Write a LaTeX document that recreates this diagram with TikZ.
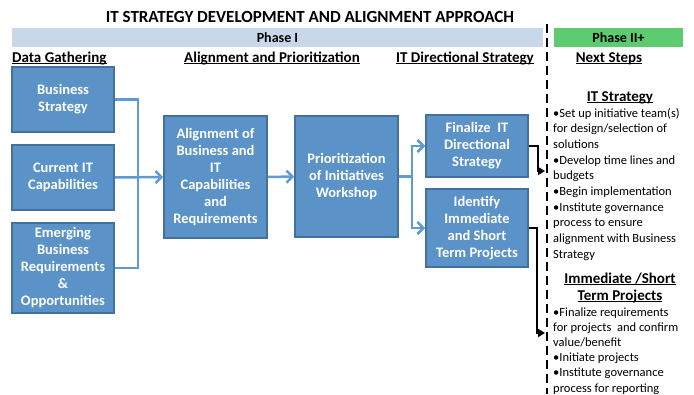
\documentclass[tikz,border=0pt]{standalone}
\usepackage{fontspec}
\setmainfont{Carlito}
\usetikzlibrary{arrows.meta}
\definecolor{boxfill}{HTML}{5B93C8}
\definecolor{boxline}{HTML}{41719C}
\definecolor{conncol}{HTML}{5F9AD3}
\definecolor{phaseone}{HTML}{C8D8EA}
\definecolor{phasetwo}{HTML}{5DCB6F}
\newcommand\hul[1]{\leavevmode\setbox0=\hbox{#1}\rlap{\rule[-2.3pt]{\wd0}{1.3pt}}\box0}
\begin{document}
\begin{tikzpicture}[x=1pt,y=-1pt,
 box/.style={draw=boxline, line width=1.5pt, fill=boxfill, text=white, font=\fontsize{14.5}{17}\selectfont\bfseries, align=center, inner sep=0pt, minimum width=102pt},
 conn/.style={draw=conncol, line width=2.5pt},
 carrow/.style={conn, -{Straight Barb[length=6pt,width=12pt]}},
 blk/.style={draw=black, line width=2pt, -{Triangle[length=7pt,width=8pt]}},
 hdr/.style={font=\fontsize{15}{18}\selectfont\bfseries, inner sep=0pt, anchor=base},
 phase/.style={font=\fontsize{14}{16}\selectfont\bfseries, inner sep=0pt, minimum height=19pt},
 body/.style={font=\fontsize{12.5}{15.7}\selectfont, inner sep=0pt, anchor=base west}]
\useasboundingbox (0,0) rectangle (694,394);

% title
\node[font=\fontsize{17}{20}\selectfont\bfseries, inner sep=0pt, anchor=base] (title) at (310,22) {IT STRATEGY DEVELOPMENT AND ALIGNMENT APPROACH};

% phase bars
\node[phase, fill=phaseone, minimum width=531pt] (p1) at (277.5,37.5) {Phase I};
\node[phase, fill=phasetwo, minimum width=129pt] (p2) at (618.5,37.5) {Phase II+};

% column headers
\node[hdr, anchor=base west] (h1) at (12,62) {\hul{Data Gathering}};
\node[hdr] (h2) at (272,62) {\hul{Alignment and Prioritization}};
\node[hdr] (h3) at (465,62) {\hul{IT Directional Strategy}};
\node[hdr] (h4) at (609,62) {\hul{Next Steps}};

% dashed separator
\draw[line width=2.5pt, dash pattern=on 9pt off 5pt] (547,24) -- (547,394);

% boxes
\node[box, minimum height=65pt] (bs) at (63,99.5) {Business\\Strategy};
\node[box, minimum height=65pt] (cit) at (63,177.5) {Current IT\\Capabilities};
\node[box, minimum height=90pt] (ebr) at (63,268) {Emerging\\Business\\Requirements\\\&\\Opportunities};
\node[box, minimum width=103pt, minimum height=122pt] (al) at (215.5,177) {Alignment of\\Business and\\IT\\Capabilities\\and\\Requirements};
\node[box, minimum width=103pt, minimum height=121pt] (pr) at (346.5,176.5) {Prioritization\\of Initiatives\\Workshop};
\node[box, minimum height=62pt] (fin) at (477,146) {Finalize~~IT\\Directional\\Strategy};
\node[box, minimum height=78pt] (iden) at (477,228) {Identify\\Immediate\\and Short\\Term Projects};

% blue connectors
\coordinate (j1) at (138,177.5);
\draw[conn] (bs.east) -| (j1) |- (ebr.east);
\draw[carrow] (cit.east) -- (al.west);
\draw[carrow] (al.east) -- (pr.west);
\coordinate (j2) at (412,176.5);
\draw[conn] (pr.east) -- (j2);
\draw[carrow] (j2) |- (fin.west);
\draw[carrow] (j2) |- (iden.west);

% black connectors
\coordinate (t1) at (545,171);
\coordinate (t2) at (545,333);
\draw[blk] (fin.east) -- ++(9,0) |- (t1);
\draw[blk] (iden.east) -- ++(8,0) |- (t2);

% next steps text
\node[hdr] (ns1) at (620,101) {\hul{IT Strategy}};
\foreach \t [count=\i] in {{•Set up initiative team(s)},{for design/selection of},{solutions},{•Develop time lines and},{budgets},{•Begin implementation},{•Institute governance},{process to ensure},{alignment with Business},{Strategy}}
  \node[body] (sa\i) at (553,{117+15.7*(\i-1)}) {\t};
\node[hdr] (ns2) at (620,283) {\hul{Immediate /Short}};
\node[hdr] (ns3) at (620,300) {\hul{Term Projects}};
\foreach \t [count=\i] in {{•Finalize requirements},{for projects~ and confirm},{value/benefit},{•Initiate projects},{•Institute governance},{process for reporting}}
  \node[body] (sb\i) at (553,{316+15.2*(\i-1)}) {\t};
\end{tikzpicture}
\end{document}
